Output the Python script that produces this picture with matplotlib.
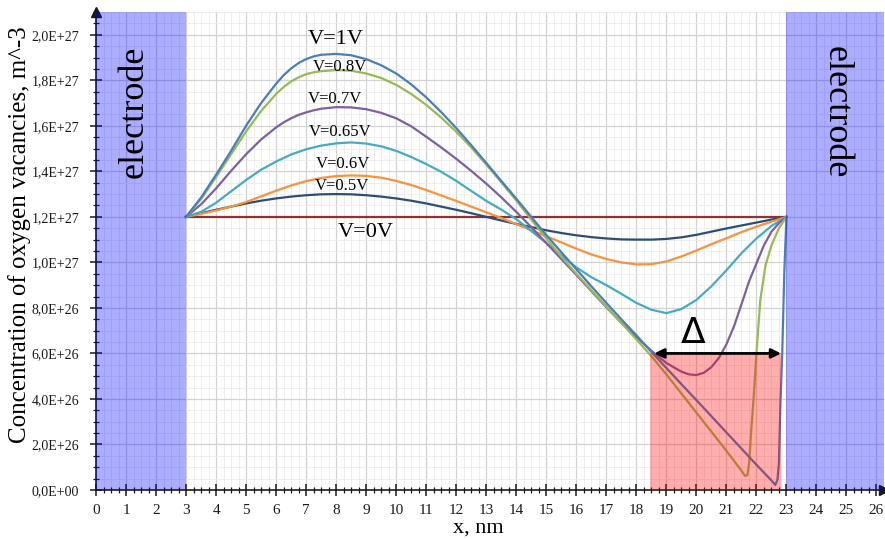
import numpy as np
import matplotlib
matplotlib.use("Agg")
import matplotlib.pyplot as plt
from matplotlib.ticker import MultipleLocator, FuncFormatter
from matplotlib.patches import Rectangle

plt.rcParams['font.family'] = ['Liberation Serif', 'DejaVu Serif']

# concentrations are given in units of 1E27 m^-3
SCALE = 1e27

x_half = [3.0, 3.5, 4.0, 4.5, 5.0, 5.5, 6.0, 6.5, 7.0, 7.5, 8.0, 8.5, 9.0, 9.5,
          10.0, 10.5, 11.0, 11.5, 12.0, 12.5, 13.0, 13.5, 14.0, 14.5, 15.0, 15.5,
          16.0, 16.5, 17.0, 17.5, 18.0, 18.5, 19.0, 19.5, 20.0, 20.5, 21.0, 21.5,
          22.0, 22.5, 23.0]

# V=0V
x_v0 = [3.0, 23.0]
n_v0 = [1.2, 1.2]

# V=0.5V
n_v05 = [1.200, 1.216, 1.231, 1.245, 1.259, 1.271, 1.281, 1.289, 1.295, 1.299,
         1.300, 1.299, 1.295, 1.289, 1.281, 1.271, 1.259, 1.245, 1.231, 1.216,
         1.200, 1.184, 1.169, 1.155, 1.141, 1.129, 1.119, 1.111, 1.105, 1.101,
         1.100, 1.100, 1.103, 1.110, 1.121, 1.135, 1.149, 1.162, 1.175, 1.188,
         1.200]

# V=0.6V
n_v06 = [1.200, 1.213, 1.228, 1.245, 1.265, 1.290, 1.315, 1.338, 1.357, 1.371,
         1.379, 1.382, 1.380, 1.372, 1.358, 1.340, 1.318, 1.294, 1.270, 1.245,
         1.220, 1.195, 1.168, 1.141, 1.115, 1.088, 1.060, 1.035, 1.015, 1.000,
         0.991, 0.992, 1.004, 1.026, 1.052, 1.080, 1.106, 1.133, 1.157, 1.179,
         1.200]

# V=0.65V
n_v065 = [1.200, 1.222, 1.262, 1.312, 1.362, 1.407, 1.443, 1.474, 1.497, 1.513,
          1.523, 1.527, 1.522, 1.510, 1.490, 1.463, 1.432, 1.398, 1.358, 1.314,
          1.270, 1.232, 1.190, 1.138, 1.085, 1.031, 0.978, 0.935, 0.900, 0.862,
          0.822, 0.792, 0.777, 0.795, 0.835, 0.895, 0.965, 1.040, 1.105, 1.160,
          1.200]

# V=0.7V
x_v07 = [3.0, 3.5, 4.0, 4.5, 5.0, 5.5, 6.0, 6.25, 6.5, 6.75, 7.0, 7.25, 7.5, 8.0,
         8.5, 9.0, 9.5, 10.0, 10.5, 11.0, 11.5, 12.0, 12.5, 13.0, 13.5, 14.0,
         14.5, 15.0, 15.5, 16.0, 16.5, 17.0, 17.5, 18.0, 18.5, 19.0, 19.5, 19.75,
         20.0, 20.25, 20.5, 20.75, 21.0, 21.25, 21.5, 21.75, 22.0, 22.25, 22.5,
         22.75, 23.0]
n_v07 = [1.200, 1.255, 1.325, 1.402, 1.475, 1.540, 1.593, 1.615, 1.633, 1.648,
         1.659, 1.668, 1.675, 1.682, 1.681, 1.673, 1.657, 1.633, 1.598, 1.552,
         1.505, 1.455, 1.402, 1.346, 1.286, 1.222, 1.155, 1.085, 1.015, 0.945,
         0.874, 0.803, 0.735, 0.672, 0.612, 0.558, 0.520, 0.508, 0.505, 0.515,
         0.540, 0.580, 0.640, 0.718, 0.815, 0.915, 0.995, 1.075, 1.135, 1.172,
         1.200]

# V=0.8V
x_v08 = [3.0, 3.5, 4.0, 4.5, 5.0, 5.5, 6.0, 6.25, 6.5, 6.75, 7.0, 7.25, 7.5, 8.0,
         8.5, 9.0, 9.5, 10.0, 10.5, 11.0, 11.5, 12.0, 12.5, 13.0, 13.5, 14.0,
         14.5, 15.0, 15.5, 16.0, 16.5, 17.0, 17.5, 18.0, 18.5, 19.0, 19.5, 20.0,
         20.5, 21.0, 21.3, 21.5, 21.62, 21.7, 21.76, 21.82, 21.91, 22.0, 22.13,
         22.3, 22.5, 22.75, 23.0]
n_v08 = [1.200, 1.278, 1.375, 1.475, 1.575, 1.665, 1.740, 1.770, 1.795, 1.813,
         1.827, 1.835, 1.840, 1.845, 1.842, 1.830, 1.810, 1.780, 1.740, 1.692,
         1.636, 1.574, 1.505, 1.430, 1.352, 1.272, 1.188, 1.105, 1.025, 0.950,
         0.878, 0.806, 0.734, 0.662, 0.588, 0.508, 0.424, 0.340, 0.256, 0.172,
         0.120, 0.085, 0.062, 0.065, 0.120, 0.250, 0.410, 0.600, 0.835, 0.985,
         1.075, 1.150, 1.200]

# V=1V
x_v1 = [3.0, 3.5, 4.0, 4.5, 5.0, 5.5, 6.0, 6.25, 6.5, 6.75, 7.0, 7.25, 7.5, 8.0,
        8.5, 9.0, 9.5, 10.0, 10.5, 11.0, 11.5, 12.0, 12.5, 13.0, 13.5, 14.0,
        14.5, 15.0, 15.5, 16.0, 16.5, 17.0, 17.5, 18.0, 18.5, 19.0, 19.5, 20.0,
        20.5, 21.0, 21.5, 22.0, 22.5, 22.63, 22.7, 22.75, 22.8, 22.86, 22.93,
        23.0]
n_v1 = [1.200, 1.285, 1.385, 1.490, 1.600, 1.700, 1.785, 1.822, 1.852, 1.876,
        1.893, 1.905, 1.912, 1.916, 1.910, 1.893, 1.866, 1.830, 1.782, 1.725,
        1.660, 1.590, 1.515, 1.437, 1.358, 1.280, 1.200, 1.120, 1.045, 0.970,
        0.895, 0.822, 0.750, 0.680, 0.607, 0.536, 0.465, 0.395, 0.324, 0.253,
        0.182, 0.111, 0.042, 0.022, 0.045, 0.120, 0.380, 0.600, 0.960, 1.200]

series = [
    (x_v0, n_v0, '#863634'),
    (x_half, n_v05, '#2c4d75'),
    (x_half, n_v06, '#f69240'),
    (x_half, n_v065, '#46aac5'),
    (x_v07, n_v07, '#7d60a0'),
    (x_v08, n_v08, '#98b954'),
    (x_v1, n_v1, '#4a7ebb'),
]

labels = ['V=1V', 'V=0.8V', 'V=0.7V', 'V=0.65V', 'V=0.6V', 'V=0.5V', 'V=0V']
label_x = [7.97, 8.13, 7.97, 8.13, 8.23, 8.2, 8.97]
label_y = [1.978, 1.859, 1.719, 1.574, 1.433, 1.336, 1.130]
label_size = [16, 12, 12, 12, 12, 12, 16]

fig = plt.figure(figsize=(8.85, 5.39), dpi=100)
ax = fig.add_axes([96 / 885, 49 / 539, 788 / 885, 478 / 539])
ax.set_xlim(0, 26.25)
ax.set_ylim(0, 2.1 * SCALE)

ax.xaxis.set_major_locator(MultipleLocator(1))
ax.xaxis.set_minor_locator(MultipleLocator(0.25))
ax.yaxis.set_major_locator(MultipleLocator(0.2 * SCALE))
ax.yaxis.set_minor_locator(MultipleLocator(0.05 * SCALE))
ax.yaxis.set_major_formatter(FuncFormatter(lambda v, p: ('%.1E' % v).replace('.', ',')))
ax.grid(which='major', color='#d2d2d2', lw=0.9)
ax.grid(which='minor', color='#ebebeb', lw=0.6)

for xs, ns, c in series:
    ax.plot(xs, np.array(ns) * SCALE, color=c, lw=1.6)

# electrodes and the depleted region
ax.add_patch(Rectangle((0, 0), 3, 2.1 * SCALE, facecolor='#0000ff', alpha=0.32,
                       lw=0, zorder=3))
ax.add_patch(Rectangle((23, 0), 3.25, 2.1 * SCALE, facecolor='#0000ff', alpha=0.32,
                       lw=0, zorder=3))
ax.add_patch(Rectangle((18.47, 0), 22.83 - 18.47, 0.6 * SCALE, facecolor='#ff0000',
                       alpha=0.32, lw=0, zorder=3))

ax.text(1.27, 1.66 * SCALE, 'electrode', rotation=90, fontsize=26,
        ha='center', va='center', zorder=6)
ax.text(24.65, 1.66 * SCALE, 'electrode', rotation=270, fontsize=26,
        ha='center', va='center', zorder=6)

for t, lx, ly, fs in zip(labels, label_x, label_y, label_size):
    ax.text(lx, ly * SCALE, t, fontsize=fs, ha='center', va='center', zorder=6)

ax.annotate('', xy=(22.82, 0.6 * SCALE), xytext=(18.6, 0.6 * SCALE),
            arrowprops=dict(arrowstyle='<|-|>', color='black', lw=2,
                            mutation_scale=14, shrinkA=0, shrinkB=0), zorder=6)
ax.text(19.89, 0.69 * SCALE, 'Δ', fontsize=26, family='DejaVu Sans',
        ha='center', va='center', zorder=6)

for s in ['top', 'right']:
    ax.spines[s].set_visible(False)
for s in ['left', 'bottom']:
    ax.spines[s].set_color('#1a1a1a')
    ax.spines[s].set_linewidth(1.2)
ax.plot(0, 1, '^', color='#1a1a1a', ms=7, transform=ax.transAxes, clip_on=False)
ax.plot(1, 0, '>', color='#1a1a1a', ms=7, transform=ax.transAxes, clip_on=False)

ax.tick_params(which='major', direction='inout', length=8, width=1.1, color='#1a1a1a')
ax.tick_params(which='minor', direction='inout', length=5, width=0.9, color='#1a1a1a')
ax.tick_params(axis='y', labelsize=10, pad=8, labelcolor='#1a1a1a')
ax.tick_params(axis='x', labelsize=11, pad=6, labelcolor='#1a1a1a')

ax.text(-0.0965, 0.534, 'Concentration of oxygen vacancies, m^-3', rotation=90,
        fontsize=18, ha='center', va='center', transform=ax.transAxes)
ax.text(0.485, -0.088, 'x, nm', fontsize=16, ha='center', va='baseline',
        transform=ax.transAxes)

fig.savefig('out.png', dpi=100)
